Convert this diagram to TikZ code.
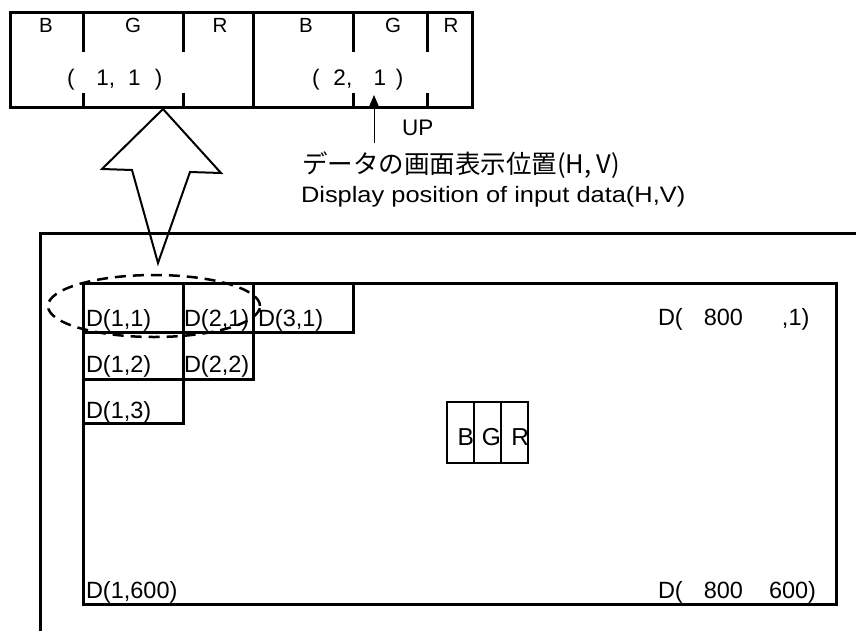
\documentclass[tikz,border=0pt]{standalone}
\usepackage{fontspec}
\usepackage{graphicx}
\setmainfont{Liberation Sans}
\newfontfamily\jpfont{Noto Sans CJK JP}
\usetikzlibrary{arrows.meta}
\tikzset{
  boxline/.style={line width=3pt},
  thinbox/.style={line width=1.3pt},
  hollowarrow/.style={line width=2pt, line join=miter},
  ringline/.style={line width=2.5pt, dash pattern=on 11pt off 7pt},
  lbl/.style={inner sep=0pt, outer sep=0pt},
  toplbl/.style={lbl, anchor=base, font=\fontsize{20.5}{20.5}\selectfont},
  poslbl/.style={lbl, anchor=base west, font=\fontsize{22.5}{22.5}\selectfont},
  dlbl/.style={lbl, anchor=base west, font=\fontsize{23.5}{23.5}\selectfont},
  bgrlbl/.style={lbl, anchor=base east, font=\fontsize{24.5}{24.5}\selectfont},
}
\begin{document}
\begin{tikzpicture}[x=1pt,y=-1pt]
\useasboundingbox (0,0) rectangle (856,630);
% ---------- top data box ----------
\draw[boxline] (10,12) rectangle (472,107);
\draw[boxline] (253,12) -- (253,107);
\foreach \xx in {83,183,353,427}{
  \draw[boxline] (\xx,12) -- (\xx,52);
  \draw[boxline] (\xx,93) -- (\xx,107);
}
\node[toplbl] (tb1) at (46,32) {B};
\node[toplbl] (tg1) at (133,32) {G};
\node[toplbl] (tr1) at (220,32) {R};
\node[toplbl] (tb2) at (306,32) {B};
\node[toplbl] (tg2) at (393,32) {G};
\node[toplbl] (tr2) at (451,32) {R};
\node[poslbl] (p11) at (67,85) {(\hspace{22pt}1,\hspace{13pt}1\hspace{14pt})};
\node[poslbl] (p21) at (312,85) {(\hspace{14pt}2,\hspace{21.5pt}1\hspace{9.5pt})};
% ---------- UP pointer ----------
\coordinate (uptip) at (374,95);
\coordinate (upfoot) at (374,143);
\draw[line width=1pt, -{Triangle[width=10pt,length=12pt]}] (upfoot) -- (uptip);
\node[lbl, anchor=base west, font=\fontsize{22.5}{22.5}\selectfont] (up) at (402,135) {UP};
\node[lbl, anchor=base west, font=\jpfont\fontsize{25.5}{26}\selectfont] (jp) at (302,173) {データの画面表示位置(H, V)};
\node[lbl, anchor=base west] (en) at (301,202) {\scalebox{1.14}[1]{\fontsize{22.3}{22.3}\selectfont Display position of input data(H,V)}};
% ---------- hollow arrow ----------
\draw[hollowarrow] (163,109) -- (221,173) -- (190,172) -- (158,263) -- (132,170) -- (102,169) -- cycle;
% ---------- outer frame ----------
\draw[boxline] (40,632) -- (40,233) -- (858,233);
% ---------- screen ----------
\draw[boxline] (83,283) rectangle (836,604);
\draw[boxline] (83,283) rectangle (183,332);
\draw[boxline] (183,283) rectangle (253,332);
\draw[boxline] (253,283) rectangle (353,332);
\draw[boxline] (83,332) rectangle (183,379);
\draw[boxline] (183,332) rectangle (253,379);
\draw[boxline] (83,379) rectangle (183,423);
\node[dlbl] (d11) at (86,326) {D(1,1)};
\node[dlbl] (d21) at (184,326) {D(2,1)};
\node[dlbl] (d31) at (258,326) {D(3,1)};
\node[dlbl] (d12) at (86,372) {D(1,2)};
\node[dlbl] (d22) at (184,372) {D(2,2)};
\node[dlbl] (d13) at (86,418) {D(1,3)};
\node[dlbl] (d1600) at (86,598) {D(1,600)};
\node[dlbl] (d8001) at (658,325) {D(\hspace{21pt}800\hspace{39pt},1)};
\node[dlbl] (d800600) at (658,598) {D(\hspace{21pt}800\hspace{26pt}600)};
% ---------- dashed ring ----------
\draw[ringline] (154,306) ellipse [x radius=106pt, y radius=31pt];
% ---------- BGR pixel ----------
\draw[thinbox] (447,402) rectangle (528,463);
\draw[thinbox] (474,402) -- (474,463);
\draw[thinbox] (501,402) -- (501,463);
\node[bgrlbl] (pb) at (474,445) {B};
\node[bgrlbl] (pg) at (501,445) {G};
\node[bgrlbl] (pr) at (529,445) {R};
\end{tikzpicture}
\end{document}
